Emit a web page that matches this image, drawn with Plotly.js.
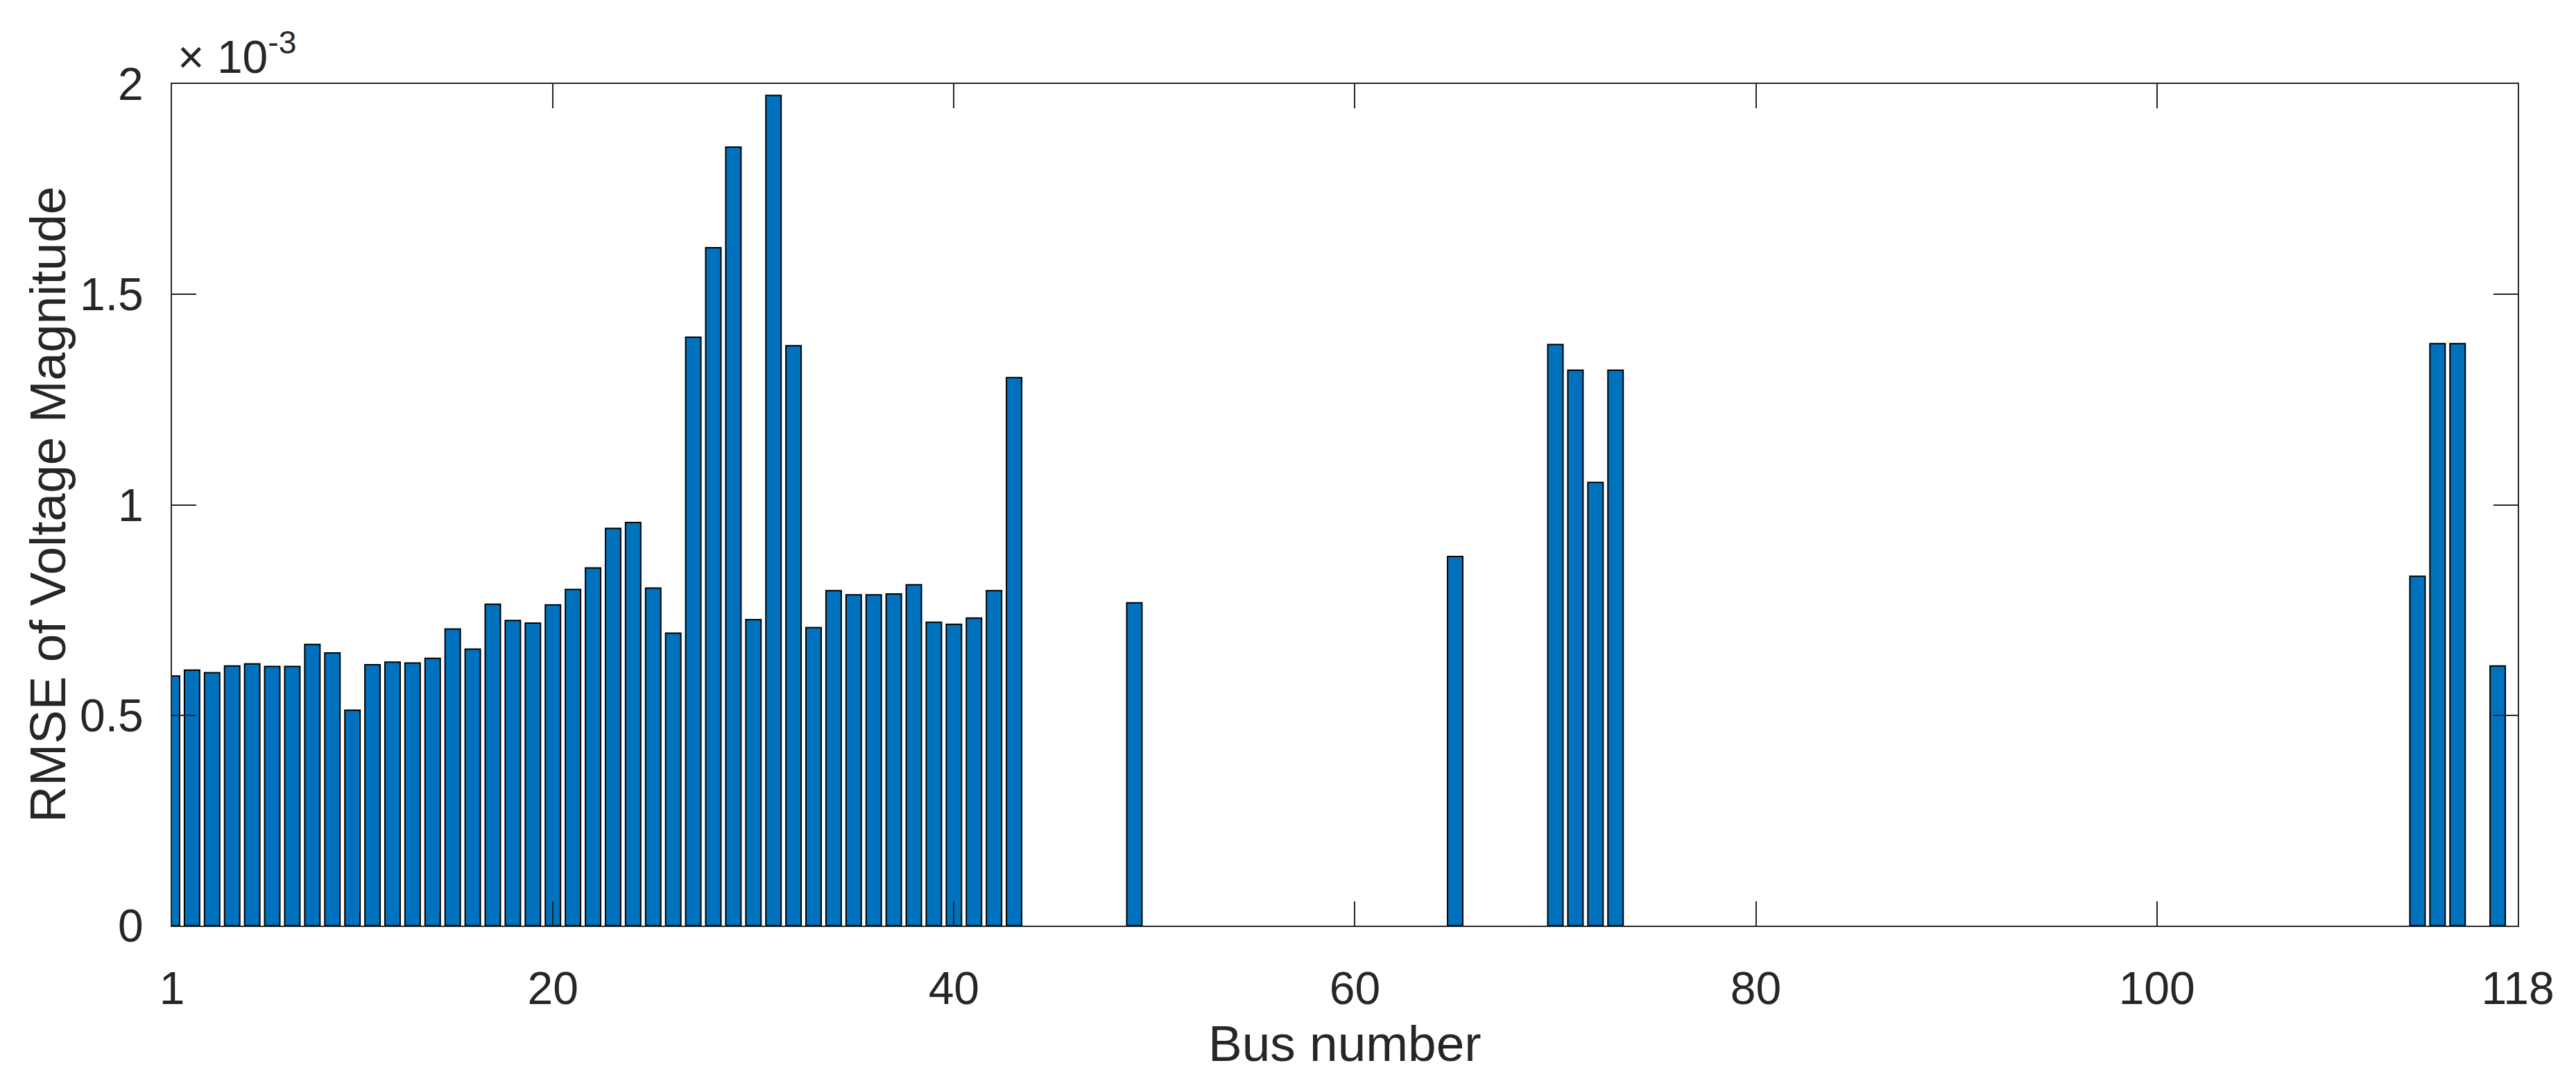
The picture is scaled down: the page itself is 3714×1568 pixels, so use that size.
<!DOCTYPE html>
<html>
<head>
<meta charset="utf-8">
<script src="https://cdn.plot.ly/plotly-3.0.1.min.js"></script>
<style>html,body{margin:0;padding:0;background:#fff;}#chart{width:3714px;height:1568px;}</style>
</head>
<body>
<div id="chart"></div>
<script>
// Bus numbers that have a bar
const busNumbers = [
  1, 2, 3, 4, 5, 6, 7, 8, 9, 10,
  11, 12, 13, 14, 15, 16, 17, 18, 19, 20,
  21, 22, 23, 24, 25, 26, 27, 28, 29, 30,
  31, 32, 33, 34, 35, 36, 37, 38, 39, 40,
  41, 42, 43, 49, 65, 70, 71, 72, 73, 113, 114, 115, 117
];
// RMSE of voltage magnitude, in units of 1e-3
const rmseValues = [
  0.593, 0.607, 0.601, 0.617, 0.622, 0.616, 0.616, 0.668, 0.648, 0.512,
  0.620, 0.626, 0.624, 0.635, 0.705, 0.657, 0.764, 0.725, 0.719, 0.762,
  0.799, 0.850, 0.944, 0.958, 0.802, 0.695, 1.398, 1.611, 1.850, 0.727,
  1.973, 1.378, 0.708, 0.796, 0.786, 0.786, 0.788, 0.810, 0.721, 0.716,
  0.731, 0.796, 1.302, 0.767, 0.877, 1.381, 1.320, 1.053, 1.320, 0.830, 1.383, 1.383, 0.617
];
const xTickVals = [1, 20, 40, 60, 80, 100, 118];
const yTickVals = [0, 0.5, 1, 1.5, 2];
const yTickText = ['0', '0.5', '1', '1.5', '2'];
const xTitle = 'Bus number';
const yTitle = 'RMSE of Voltage Magnitude';
const expLabel = '\u00d7 10<sup>-3</sup>';

const FONT = 'Liberation Sans, Arial, Helvetica, sans-serif';
const INK = '#262626';

const trace = {
  type: 'bar',
  x: busNumbers,
  y: rmseValues,
  width: 0.76,
  marker: {color: '#0072BD', line: {color: '#000000', width: 2}},
  hoverinfo: 'skip'
};

const axisCommon = {
  showline: true, linecolor: INK, linewidth: 2,
  ticks: 'inside', ticklen: 35, tickwidth: 2, tickcolor: INK,
  mirror: 'ticks', showgrid: false, zeroline: false,
  tickfont: {family: FONT, size: 66, color: INK}
};

const layout = {
  width: 3714, height: 1568,
  margin: {l: 248, r: 84, t: 121, b: 234, pad: 0},
  paper_bgcolor: '#ffffff', plot_bgcolor: '#ffffff',
  showlegend: false,
  bargap: 0,
  xaxis: Object.assign({}, axisCommon, {
    range: [1, 118], tickmode: 'array', tickvals: xTickVals,
    ticktext: xTickVals.map(String), ticklabelstandoff: 32
  }),
  yaxis: Object.assign({}, axisCommon, {
    range: [0, 2], tickmode: 'array', tickvals: yTickVals,
    ticktext: yTickText, ticklabelstandoff: 26
  }),
  annotations: [
    {text: xTitle, xref: 'paper', yref: 'paper', x: 0.5, y: 0,
     xanchor: 'center', yanchor: 'middle', yshift: -169, showarrow: false,
     font: {family: FONT, size: 73, color: INK}},
    {text: yTitle, xref: 'paper', yref: 'paper', x: 0, y: 0.5,
     xanchor: 'center', yanchor: 'middle', xshift: -180, textangle: -90, showarrow: false,
     font: {family: FONT, size: 73, color: INK}},
    {text: expLabel, xref: 'paper', yref: 'paper', x: 0, y: 1,
     xanchor: 'left', yanchor: 'bottom', xshift: 6, yshift: 0, showarrow: false,
     font: {family: FONT, size: 66, color: INK}}
  ]
};

Plotly.newPlot('chart', [trace], layout, {staticPlot: true, displayModeBar: false});
</script>
</body>
</html>
